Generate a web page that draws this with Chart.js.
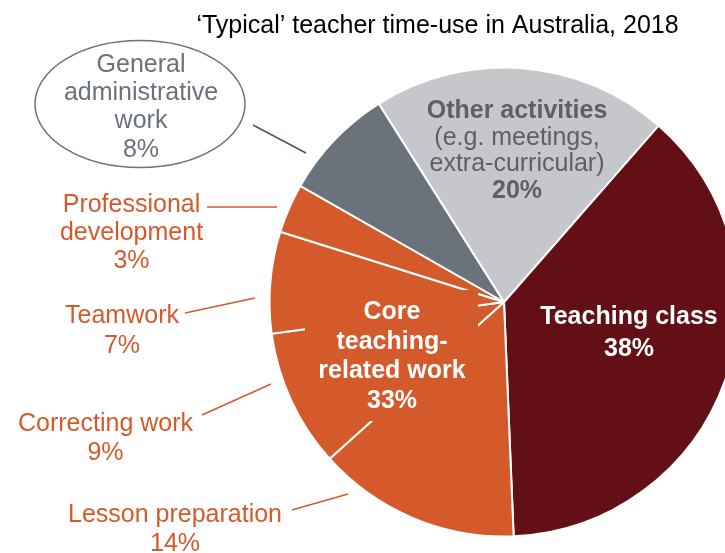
<!DOCTYPE html>
<html><head><meta charset="utf-8">
<script src="https://cdn.jsdelivr.net/npm/chart.js@4"></script>
<style>
html,body{margin:0;padding:0;overflow:hidden;background:#fff;width:725px;height:553px}
canvas{position:absolute;left:0;top:0}
</style></head>
<body><canvas id="c" width="760" height="553"></canvas>
<script>
// ---- data ----
const titleText = '\u2018Typical\u2019 teacher time-use in Australia, 2018';
const categories = ['Teaching class', 'Lesson preparation', 'Correcting work', 'Teamwork',
  'Professional development', 'General administrative work', 'Other activities'];
const shares = [37.9, 14.0, 9.5, 7.0, 3.4, 7.8, 20.4];
const shareLabels = ['38%', '14%', '9%', '7%', '3%', '8%', '20%'];
const groupName = 'Core teaching-related work';
const groupLabel = '33%';
const otherNote = ['(e.g. meetings,', 'extra-curricular)'];

// ---- styles / layout ----
const MAROON = '#621015', ORANGE = '#D45A2B', SLATE = '#6A727C', LIGHT = '#C5C7CA';
const sliceColors = [MAROON, ORANGE, ORANGE, ORANGE, ORANGE, SLATE, LIGHT];
const FONT = '"Liberation Sans", Arial, sans-serif';

const labelLayout = {
  teaching: {x: 629, y: [324, 356], color: '#ffffff', bold: true},
  core: {x: 392, y: [319, 348.5, 378, 408], color: '#ffffff', bold: true},
  other: {x: 517, y: [118, 145, 171, 198], color: '#5f6062'},
  admin: {x: 141, y: [72, 100, 128, 157], color: SLATE},
  pd: {x: 131.5, y: [212, 240, 268], color: ORANGE, line: [207, 207, 277, 207]},
  team: {x: 122, y: [323, 353], color: ORANGE, line: [185, 313, 255, 298]},
  corr: {x: 105.5, y: [431, 460], color: ORANGE, line: [202, 415, 271, 384]},
  lesson: {x: 175, y: [522, 551], color: ORANGE, line: [292, 510, 348, 494]}
};

function drawLines(ctx, lines, lay, weights) {
  ctx.fillStyle = lay.color;
  ctx.textAlign = 'center';
  ctx.textBaseline = 'alphabetic';
  lines.forEach((t, i) => {
    const w = weights ? weights[i] : (lay.bold ? 'bold' : 'normal');
    ctx.font = w + ' 25px ' + FONT;
    ctx.fillText(t, lay.x, lay.y[i]);
  });
}
function leader(ctx, l, color) {
  ctx.save();
  ctx.strokeStyle = color; ctx.lineWidth = 1.5;
  ctx.beginPath(); ctx.moveTo(l[0], l[1]); ctx.lineTo(l[2], l[3]); ctx.stroke();
  ctx.restore();
}

const labelPlugin = {
  id: 'labels',
  afterDatasetsDraw(chart) {
    const ctx = chart.ctx;
    const arc = chart.getDatasetMeta(0).data[0];
    const cx = arc.x, cy = arc.y;
    ctx.save();
    // label backdrop inside the core group (hides inner separators)
    ctx.fillStyle = ORANGE;
    ctx.fillRect(cx - 199, cy - 12, 173, 131);

    // title
    ctx.fillStyle = '#000';
    ctx.font = '25px ' + FONT;
    ctx.textAlign = 'center';
    ctx.fillText(titleText, 437.5, 33);

    // inside labels
    drawLines(ctx, ['Teaching class', shareLabels[0]], labelLayout.teaching);
    drawLines(ctx, ['Core', 'teaching-', 'related work', groupLabel], labelLayout.core);
    drawLines(ctx, ['Other activities', otherNote[0], otherNote[1], shareLabels[6]], labelLayout.other,
      ['bold', 'normal', 'normal', 'bold']);

    // admin bubble
    ctx.save();
    ctx.strokeStyle = SLATE; ctx.lineWidth = 1.5;
    ctx.beginPath(); ctx.ellipse(140, 104, 105, 63.5, 0, 0, Math.PI * 2); ctx.stroke();
    ctx.restore();
    drawLines(ctx, ['General', 'administrative', 'work', shareLabels[5]], labelLayout.admin);
    leader(ctx, [253, 125, 306, 153], '#5b5052');

    // orange callouts
    drawLines(ctx, ['Professional', 'development', shareLabels[4]], labelLayout.pd);
    leader(ctx, labelLayout.pd.line, ORANGE);
    drawLines(ctx, [categories[3], shareLabels[3]], labelLayout.team);
    leader(ctx, labelLayout.team.line, ORANGE);
    drawLines(ctx, [categories[2], shareLabels[2]], labelLayout.corr);
    leader(ctx, labelLayout.corr.line, ORANGE);
    drawLines(ctx, [categories[1], shareLabels[1]], labelLayout.lesson);
    leader(ctx, labelLayout.lesson.line, ORANGE);
    ctx.restore();
  }
};

new Chart(document.getElementById('c'), {
  type: 'pie',
  data: {
    labels: categories,
    datasets: [{
      data: shares,
      backgroundColor: sliceColors,
      borderColor: '#ffffff',
      borderWidth: 2
    }]
  },
  options: {
    responsive: false,
    animation: false,
    devicePixelRatio: 1,
    events: [],
    rotation: 41.2,
    layout: {padding: {left: 268.5, right: 20.5, top: 66.5, bottom: 15.5}},
    plugins: {legend: {display: false}, tooltip: {enabled: false}, title: {display: false}}
  },
  plugins: [labelPlugin]
});
</script>
</body></html>
